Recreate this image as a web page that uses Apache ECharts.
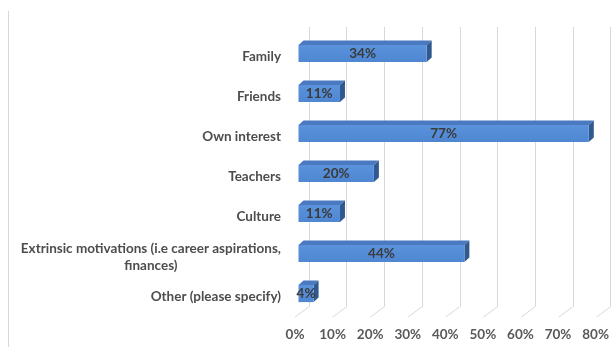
<!DOCTYPE html>
<html>
<head>
<meta charset="utf-8">
<title>Influences</title>
<script src="https://cdn.jsdelivr.net/npm/echarts@6/dist/echarts.min.js"></script>
<style>
  html, body { margin: 0; padding: 0; background: #ffffff; }
  #chart { width: 612px; height: 347px; }
</style>
</head>
<body>
<div id="chart"></div>
<script>
// Survey answers and their share of respondents (%)
const categories = [
  'Family',
  'Friends',
  'Own interest',
  'Teachers',
  'Culture',
  'Extrinsic motivations (i.e career aspirations,\nfinances)',
  'Other (please specify)'
];
const shares = [34, 11, 77, 20, 11, 44, 4];
const tickValues = [0, 10, 20, 30, 40, 50, 60, 70, 80];

// 3D look: depth offsets in pixels
const BAR_DX = 5, BAR_DY = -4.5;        // bar top/side depth
const FLOOR_DX = 14, FLOOR_DY = -10.3;  // floor depth (front edge -> back wall)

const FONT = 'Lato';
const FONT_SIZE = 13.5;
const chart = echarts.init(document.getElementById('chart'), null, { renderer: 'canvas' });

function renderBar(params, api) {
  const idx = api.value(0);
  const val = api.value(1);
  const p0 = api.coord([0, idx]);
  const p1 = api.coord([val, idx]);
  const h = api.size([0, 1])[1] * 0.43;
  const x0 = p0[0], x1 = p1[0];
  const yT = p0[1] - h / 2, yB = p0[1] + h / 2;
  return {
    type: 'group',
    children: [
      { // top face
        type: 'polygon',
        shape: { points: [[x0, yT], [x1, yT], [x1 + BAR_DX, yT + BAR_DY], [x0 + BAR_DX, yT + BAR_DY]] },
        style: { fill: '#4a79bf' }
      },
      { // side face
        type: 'polygon',
        shape: { points: [[x1, yT], [x1 + BAR_DX, yT + BAR_DY], [x1 + BAR_DX, yB + BAR_DY], [x1, yB]] },
        style: { fill: '#30598f' }
      },
      { // front face
        type: 'rect',
        shape: { x: x0, y: yT, width: x1 - x0, height: yB - yT },
        style: {
          fill: new echarts.graphic.LinearGradient(0, 0, 0, 1, [
            { offset: 0, color: '#5a92dc' },
            { offset: 1, color: '#4f86d1' }
          ])
        }
      },
      {
        type: 'text',
        style: {
          text: val + '%',
          x: (x0 + x1) / 2,
          y: (yT + yB) / 2 + 0.5,
          align: 'center',
          verticalAlign: 'middle',
          fill: '#3a3a3a',
          font: 'bold ' + FONT_SIZE + 'px ' + FONT
        },
        z2: 10
      }
    ]
  };
}

function renderFloorLine(params, api) {
  const v = api.value(0);
  const back = api.coord([v, 0]);
  return {
    type: 'line',
    shape: { x1: back[0], y1: back[1], x2: back[0] - FLOOR_DX, y2: back[1] - FLOOR_DY },
    style: { stroke: '#d9d9d9', lineWidth: 1 }
  };
}

const option = {
  animation: false,
  backgroundColor: '#ffffff',
  graphic: [{
    type: 'line',
    shape: { x1: 8.5, y1: 11, x2: 8.5, y2: 347 },
    style: { stroke: '#d9d9d9', lineWidth: 1 },
    silent: true
  }],
  grid: [
    // plane of the bars' front faces
    { left: 298.5, width: 301.6, top: 33.5, height: 280 },
    // back wall
    { left: 309, width: 301.6, top: 27, bottom: 40.3 },
    // front edge of the floor (axis labels)
    { left: 295, width: 301.6, top: 37, height: 280 }
  ],
  xAxis: [
    { gridIndex: 0, type: 'value', min: 0, max: 80, interval: 10, show: false },
    {
      gridIndex: 1, type: 'value', min: 0, max: 80, interval: 10,
      axisLine: { show: false }, axisTick: { show: false }, axisLabel: { show: false },
      splitLine: { show: true, lineStyle: { color: '#d9d9d9', width: 1 } }
    },
    {
      gridIndex: 2, type: 'value', min: 0, max: 80, interval: 10,
      axisLine: { show: false }, axisTick: { show: false }, splitLine: { show: false },
      axisLabel: {
        margin: 11,
        formatter: v => v + '%',
        color: '#595959',
        fontFamily: FONT,
        fontWeight: 'bold',
        fontSize: FONT_SIZE
      }
    }
  ],
  yAxis: [
    { gridIndex: 0, type: 'category', data: categories, inverse: true, show: false },
    { gridIndex: 1, type: 'value', min: 0, max: 1, show: false },
    {
      gridIndex: 2, type: 'category', data: categories, inverse: true,
      axisLine: { show: false }, axisTick: { show: false }, splitLine: { show: false },
      axisLabel: {
        margin: 14,
        color: '#4d4d4d',
        fontFamily: FONT,
        fontWeight: 'bold',
        fontSize: FONT_SIZE,
        lineHeight: 16.5,
        formatter: function (v) {
          return v.split('\n').map(s => '{c|' + s + '}').join('\n');
        },
        rich: {
          c: { align: 'center', color: '#4d4d4d', fontFamily: FONT, fontWeight: 'bold', fontSize: FONT_SIZE, lineHeight: 16.5 }
        }
      }
    }
  ],
  series: [
    {
      type: 'custom',
      xAxisIndex: 1, yAxisIndex: 1,
      renderItem: renderFloorLine,
      data: tickValues.map(v => [v]),
      z: 1,
      silent: true
    },
    {
      type: 'custom',
      xAxisIndex: 0, yAxisIndex: 0,
      renderItem: renderBar,
      encode: { x: 1, y: 0 },
      data: shares.map((v, i) => [i, v]),
      z: 5
    }
  ]
};

chart.setOption(option);
</script>
</body>
</html>
